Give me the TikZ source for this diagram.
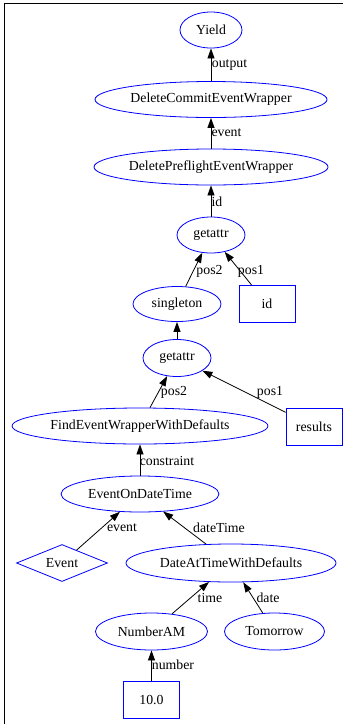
\documentclass[tikz,border=0pt]{standalone}
\usepackage{fontspec}
\setmainfont{Liberation Serif}
\usetikzlibrary{shapes.geometric,arrows.meta}
\begin{document}
\begin{tikzpicture}[x=1pt,y=-1pt,
  every node/.style={font=\fontsize{13.8}{16}\selectfont, text=black},
  ell/.style={ellipse, draw=blue, line width=0.8pt, inner sep=0pt},
  box/.style={rectangle, draw=blue, line width=0.8pt, inner sep=0pt, minimum width=56pt, minimum height=37pt},
  dia/.style={diamond, draw=blue, line width=0.8pt, inner sep=0pt, aspect=2.4},
  conn/.style={draw=black, line width=0.8pt, -{Triangle[length=10pt,width=7pt]}},
  lbl/.style={inner sep=0pt}]
\useasboundingbox (0,0) rectangle (343,724);
\draw[line width=1.3pt] (4.5,724) -- (4.5,3.5) -- (343,3.5);

\node[ell, minimum width=62, minimum height=36] (yield) at (211,30) {Yield};
\node[ell, minimum width=232, minimum height=36] (dcew) at (211,99.5) {DeleteCommitEventWrapper};
\node[ell, minimum width=234, minimum height=36] (dpew) at (211,167) {DeletePreflightEventWrapper};
\node[ell, minimum width=68, minimum height=36] (ga1) at (211,235) {getattr};
\node[ell, minimum width=88, minimum height=35] (single) at (177,304) {singleton};
\node[box] (id) at (267,304) {id};
\node[ell, minimum width=68, minimum height=37] (ga2) at (177,358) {getattr};
\node[box] (results) at (314,426.5) {results};
\node[ell, minimum width=256, minimum height=36] (find) at (140,426) {FindEventWrapperWithDefaults};
\node[ell, minimum width=158, minimum height=36] (eodt) at (140,494) {EventOnDateTime};
\node[dia, minimum width=91, minimum height=37] (event) at (62,563) {Event};
\node[ell, minimum width=210, minimum height=38] (datw) at (231,563) {DateAtTimeWithDefaults};
\node[ell, minimum width=112, minimum height=37] (nam) at (151.5,631.5) {NumberAM};
\node[ell, minimum width=100, minimum height=37] (tom) at (274.5,631.5) {Tomorrow};
\node[box] (ten) at (151.5,700) {10.0};

\draw[conn] (dcew) -- (yield);
\draw[conn] (dpew) -- (dcew);
\draw[conn] (ga1) -- (dpew);
\draw[conn] (single) -- (ga1);
\draw[conn] (id) -- (ga1);
\draw[conn] (ga2) -- (single);
\draw[conn] (find) -- (ga2);
\draw[conn] (results) -- (ga2);
\draw[conn] (eodt) -- (find);
\draw[conn] (event) -- (eodt);
\draw[conn] (datw) -- (eodt);
\draw[conn] (nam) -- (datw);
\draw[conn] (tom) -- (datw);
\draw[conn] (ten) -- (nam);

\node[lbl] (l1) at (229.5,65) {output};
\node[lbl] (l2) at (226.5,133) {event};
\node[lbl] (l3) at (217,202) {id};
\node[lbl] (l4) at (209.5,271) {pos2};
\node[lbl] (l5) at (251,271) {pos1};
\node[lbl] (l6) at (174,392) {pos2};
\node[lbl] (l7) at (270,392) {pos1};
\node[lbl] (l8) at (167,461) {constraint};
\node[lbl] (l9) at (122,528) {event};
\node[lbl] (l10) at (219,528) {dateTime};
\node[lbl] (l11) at (210,598) {time};
\node[lbl] (l12) at (268,598) {date};
\node[lbl] (l13) at (173,665) {number};
\end{tikzpicture}
\end{document}
